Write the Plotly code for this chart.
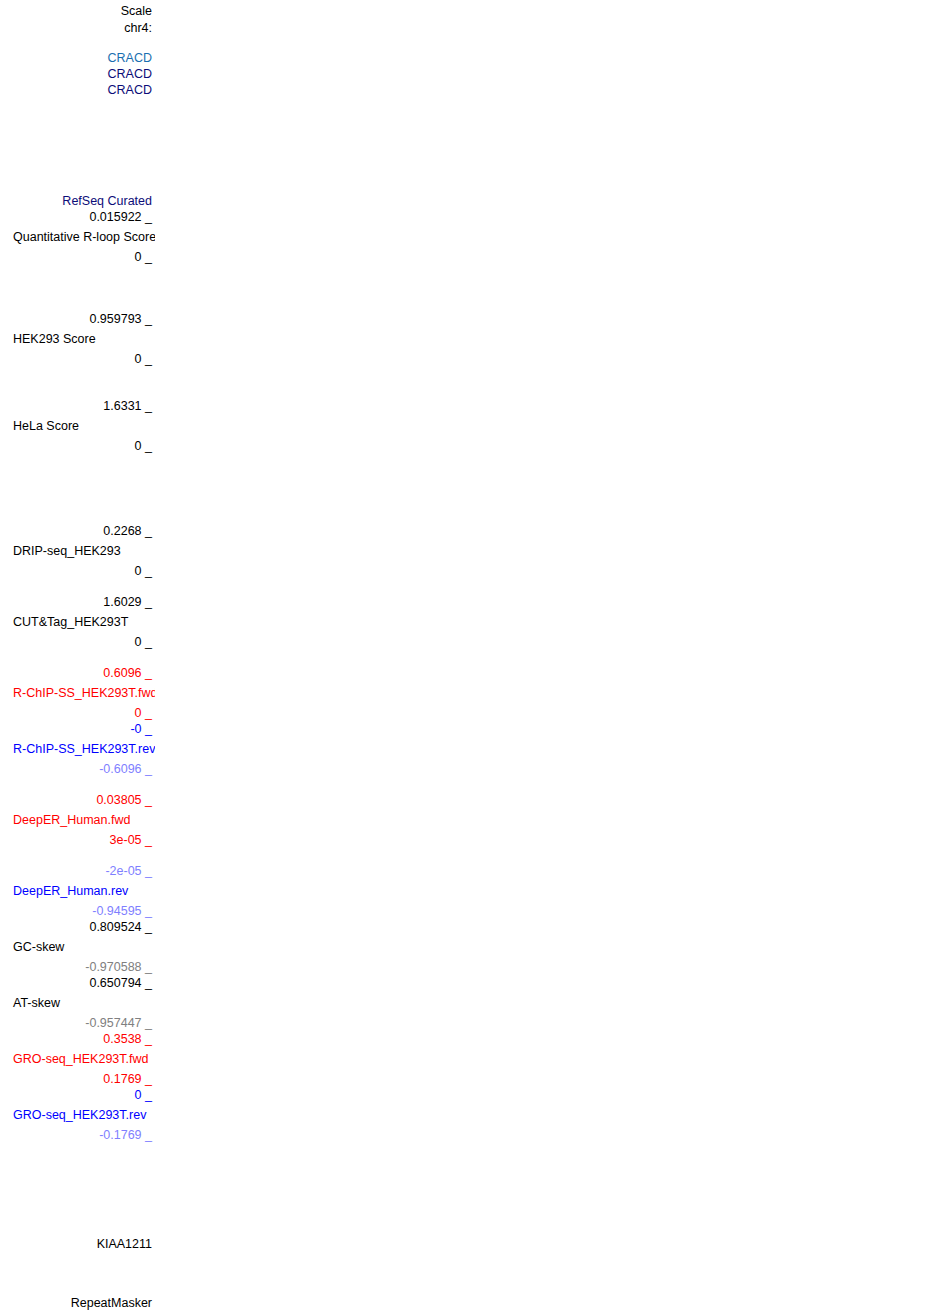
#!/usr/bin/env python3

import plotly.graph_objects as go

# genome browser left-hand label column (pixel rows, top = 0)
BLACK = '#000000'
GREY = '#808080'
RED = '#ff0000'
BLUE = '#0000ff'
PALE_BLUE = '#7f7fff'
NAVY = '#0c0c78'
GENE_BLUE = '#1a6fb0'

# right-aligned labels: scale header, gene names, axis limits
right_labels = [
    'Scale', 'chr4:',
    'CRACD', 'CRACD', 'CRACD',
    'RefSeq Curated',
    '0.015922 _', '0 _',
    '0.959793 _', '0 _',
    '1.6331 _', '0 _',
    '0.2268 _', '0 _',
    '1.6029 _', '0 _',
    '0.6096 _', '0 _',
    '-0 _', '-0.6096 _',
    '0.03805 _', '3e-05 _',
    '-2e-05 _', '-0.94595 _',
    '0.809524 _', '-0.970588 _',
    '0.650794 _', '-0.957447 _',
    '0.3538 _', '0.1769 _',
    '0 _', '-0.1769 _',
    'KIAA1211',
    'RepeatMasker',
]
right_rows = [
    10, 27,
    57, 73, 89,
    200,
    216, 256,
    318, 358,
    405, 445,
    530, 570,
    601, 641,
    672, 712,
    728, 768,
    799, 839,
    870, 910,
    926, 966,
    982, 1022,
    1038, 1078,
    1094, 1134,
    1243,
    1302,
]
right_colors = [
    BLACK, BLACK,
    GENE_BLUE, NAVY, NAVY,
    NAVY,
    BLACK, BLACK,
    BLACK, BLACK,
    BLACK, BLACK,
    BLACK, BLACK,
    BLACK, BLACK,
    RED, RED,
    BLUE, PALE_BLUE,
    RED, RED,
    PALE_BLUE, PALE_BLUE,
    BLACK, GREY,
    BLACK, GREY,
    RED, RED,
    BLUE, PALE_BLUE,
    BLACK,
    BLACK,
]

# left-aligned track titles
track_names = [
    'Quantitative R-loop Score',
    'HEK293 Score',
    'HeLa Score',
    'DRIP-seq_HEK293',
    'CUT&Tag_HEK293T',
    'R-ChIP-SS_HEK293T.fwd',
    'R-ChIP-SS_HEK293T.rev',
    'DeepER_Human.fwd',
    'DeepER_Human.rev',
    'GC-skew',
    'AT-skew',
    'GRO-seq_HEK293T.fwd',
    'GRO-seq_HEK293T.rev',
]
track_rows = [236, 338, 425, 550, 621, 692, 748, 819, 890, 946, 1002, 1058, 1114]
track_colors = [BLACK, BLACK, BLACK, BLACK, BLACK, RED, BLUE, RED, BLUE,
                BLACK, BLACK, RED, BLUE]

W, H = 950, 1311
LABEL_W = 155   # label column is clipped here
RIGHT_X = 152
LEFT_X = 13
TOP = -2        # text baseline nudge

font = dict(family='Liberation Sans, Arial, sans-serif', size=12.5)

fig = go.Figure()
fig.add_trace(go.Scatter(
    x=[RIGHT_X] * len(right_labels), y=right_rows,
    mode='text', text=right_labels, textposition='middle left',
    textfont=dict(color=right_colors, **font),
    hoverinfo='skip', cliponaxis=True,
))
fig.add_trace(go.Scatter(
    x=[LEFT_X] * len(track_names), y=track_rows,
    mode='text', text=track_names, textposition='middle right',
    textfont=dict(color=track_colors, **font),
    hoverinfo='skip', cliponaxis=True,
))

fig.update_layout(
    width=W, height=H,
    margin=dict(l=0, r=W - LABEL_W, t=0, b=0),
    paper_bgcolor='white', plot_bgcolor='white',
    showlegend=False,
    xaxis=dict(range=[0, LABEL_W], visible=False, fixedrange=True),
    yaxis=dict(range=[TOP + H, TOP], visible=False, fixedrange=True),
)

# drop the page's default body margin so the figure sits at the window corner
fig.write_html('out.html', config={'displayModeBar': False},
               post_script="document.body.style.margin='0';")
